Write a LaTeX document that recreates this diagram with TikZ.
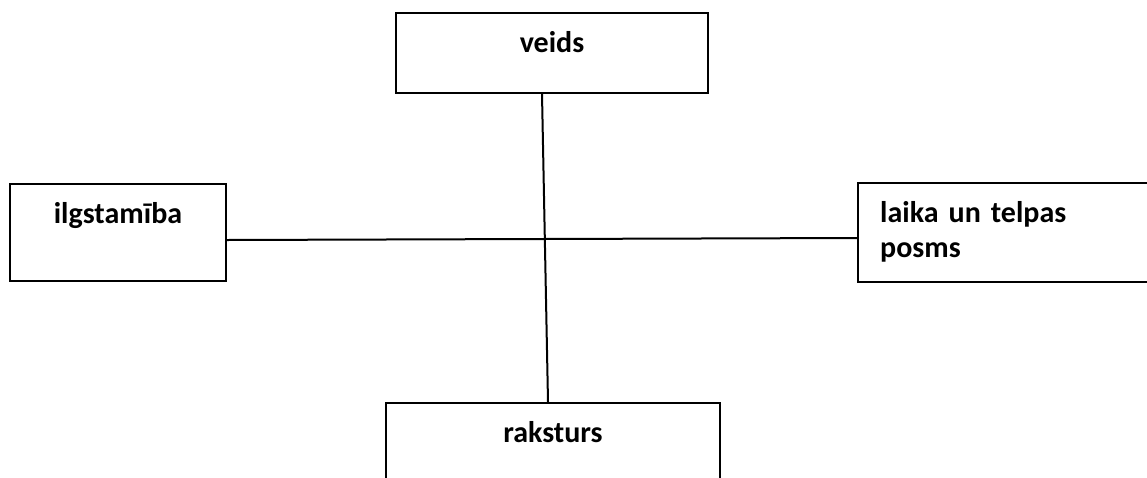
\documentclass[tikz,border=0pt]{standalone}
\usepackage{fontspec}
\setmainfont{Carlito}
\begin{document}
\begin{tikzpicture}[x=1pt,y=-1pt,
  box/.style={draw=black, line width=2pt, rectangle, inner sep=0pt},
  lbl/.style={font=\fontsize{30}{35}\selectfont\bfseries, inner sep=0pt},
  conn/.style={draw=black, line width=2pt}]
\clip (0,0) rectangle (1147,477);
\fill[white] (0,0) rectangle (1147,477);
% boxes
\node[box, minimum width=312pt, minimum height=80pt] (veids) at (552,53) {};
\node[box, minimum width=216pt, minimum height=97pt] (ilg) at (118,232.5) {};
\node[box, minimum width=310pt, minimum height=99pt] (laika) at (1013,232.5) {};
\node[box, minimum width=334pt, minimum height=110pt] (raks) at (553,458) {};
% labels
\node[lbl, anchor=base] (tveids) at (552,52) {veids};
\node[lbl, anchor=base] (tilg) at (118,223) {ilgstamība};
\node[lbl, anchor=base west, align=left] (tlaika) at (880,257) {{\spaceskip=10pt laika un telpas}\\posms};
\node[lbl, anchor=base] (traks) at (553,442) {raksturs};
% connectors
\draw[conn] ([xshift=-10pt]veids.south) -- ([xshift=-5pt]raks.north);
\draw[conn] ([yshift=-7.5pt]ilg.east) -- ([yshift=-5.5pt]laika.west);
\end{tikzpicture}
\end{document}
